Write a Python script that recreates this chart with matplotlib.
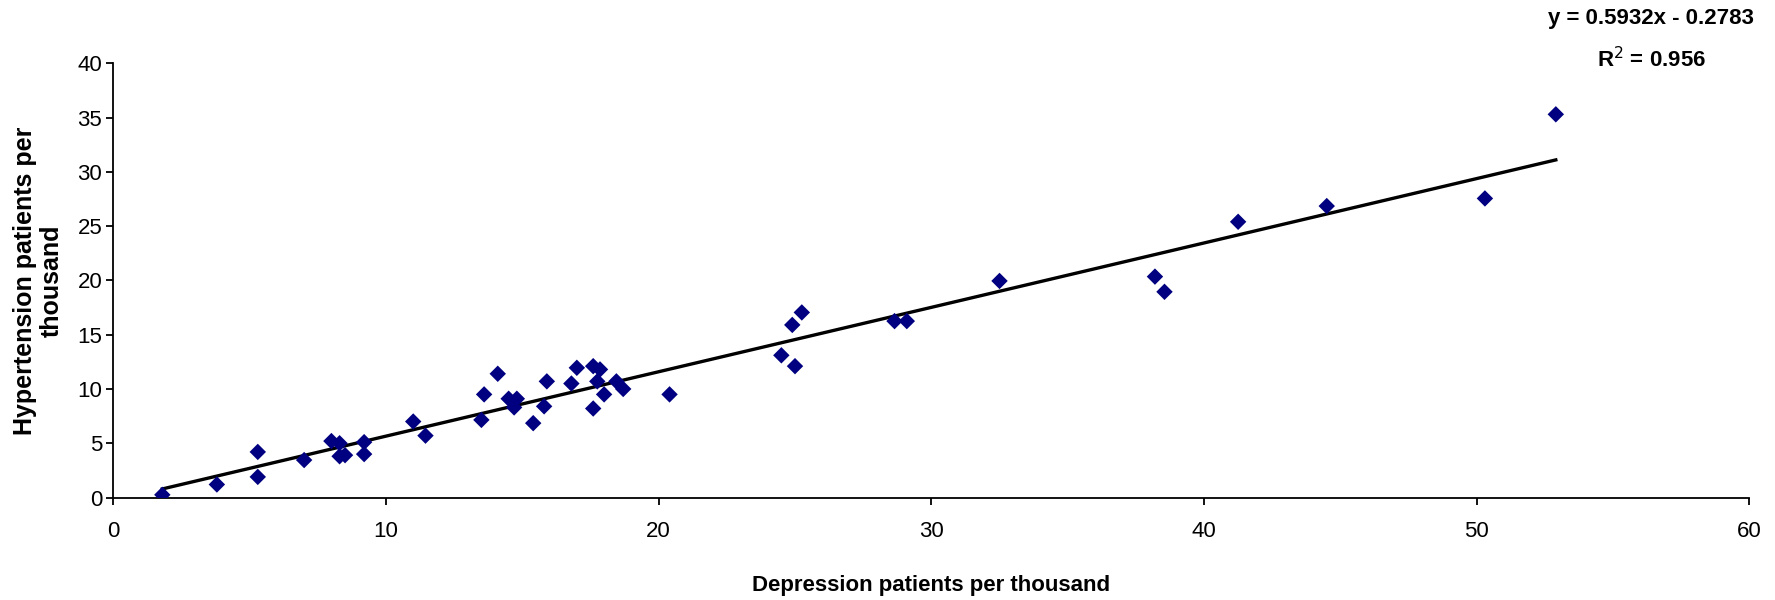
import matplotlib
matplotlib.use("Agg")
import matplotlib.pyplot as plt
import numpy as np

plt.rcParams['font.family'] = ['Liberation Sans', 'DejaVu Sans']

# Data
depression = [1.8, 3.8, 5.3, 5.3, 7.0, 8.0, 8.3, 8.3, 8.5, 9.2, 9.2, 11.0, 11.45,
              13.5, 13.6, 14.1, 14.5, 14.8, 14.7, 15.4, 15.8, 15.9, 16.8, 17.0,
              17.6, 17.6, 17.85, 17.75, 18.0, 18.45, 18.7, 20.4, 24.5, 25.0, 24.9,
              25.25, 28.65, 29.1, 32.5, 38.2, 38.55, 41.25, 44.5, 50.3, 52.9]
hypertension = [0.25, 1.2, 4.2, 1.9, 3.45, 5.2, 5.0, 3.8, 3.9, 5.1, 4.0, 7.0, 5.7,
                7.15, 9.5, 11.4, 9.1, 9.1, 8.3, 6.85, 8.4, 10.7, 10.5, 11.95,
                8.2, 12.1, 11.8, 10.7, 9.5, 10.7, 10.0, 9.5, 13.1, 12.1, 15.9,
                17.05, 16.25, 16.25, 19.95, 20.35, 18.95, 25.4, 26.85, 27.55, 35.3]
slope = 0.5932
intercept = -0.2783
r_squared = 0.956
x_ticks = [0, 10, 20, 30, 40, 50, 60]
y_ticks = [0, 5, 10, 15, 20, 25, 30, 35, 40]

hsize = 16

fig = plt.figure(figsize=(17.75, 6), dpi=100)
ax = fig.add_axes([0.0638, 0.1708, 0.9218, 0.7237])

ax.scatter(depression, hypertension, marker='D', s=70, color='#000080',
           edgecolors='none', zorder=3)

xs = np.array([min(depression), max(depression)])
ax.plot(xs, slope * xs + intercept, color='black', lw=2.4, zorder=2)

ax.set_xlim(0, 60)
ax.set_ylim(0, 40)
ax.set_xticks(x_ticks)
ax.set_yticks(y_ticks)
for s in ['top', 'right']:
    ax.spines[s].set_visible(False)
for s in ['left', 'bottom']:
    ax.spines[s].set_linewidth(1.3)
ax.tick_params(axis='both', direction='out', length=5, width=1.3,
               labelsize=hsize)
ax.tick_params(axis='x', pad=12)
ax.tick_params(axis='y', pad=3)

ax.set_xlabel('Depression patients per thousand', fontsize=hsize,
              fontweight='bold', labelpad=24)
ax.set_ylabel('Hypertension patients per\nthousand', fontsize=18,
              fontweight='bold', linespacing=1.1)
ax.yaxis.set_label_coords(-0.0305, 0.5)

ax.text(56.4, 44.1, f'y = {slope}x - {abs(intercept)}', ha='center', va='center',
        fontsize=hsize, fontweight='bold', clip_on=False)
ax.text(56.4, 40.3, f'R$^2$ = {r_squared}', ha='center', va='center',
        fontsize=hsize, fontweight='bold', clip_on=False)

fig.savefig('out.png', dpi=100)
